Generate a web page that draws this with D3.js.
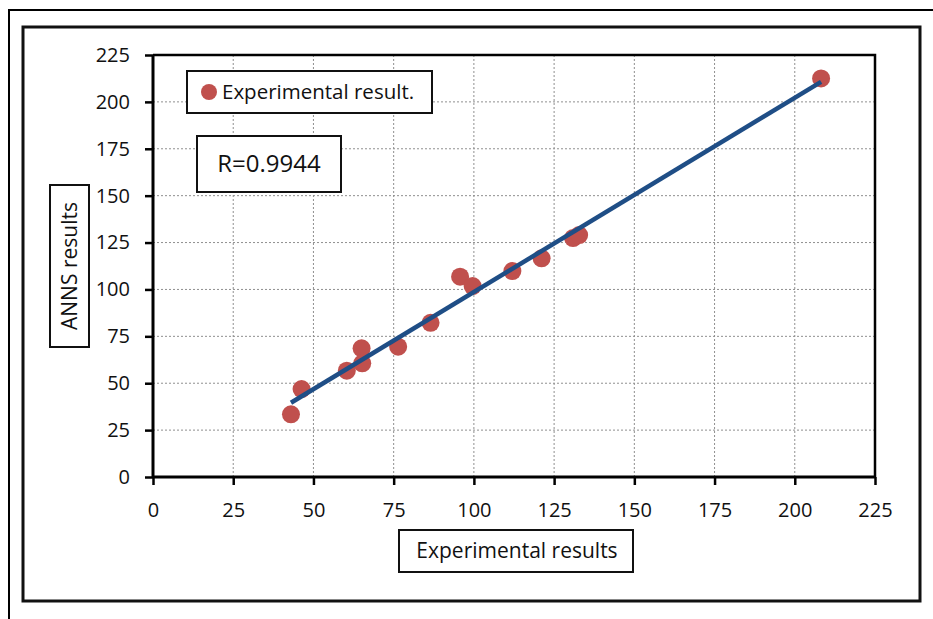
<!DOCTYPE html>
<html>
<head>
<meta charset="utf-8">
<script src="https://cdn.jsdelivr.net/npm/d3@7"></script>
<style>
  html, body { margin: 0; padding: 0; background: #fff; }
  svg { display: block; font-family: "Open Sans", Lato, sans-serif; }
</style>
</head>
<body>
<svg id="chart" width="933" height="619"></svg>
<script>
// Measured vs. predicted values
const experimental = [43.0, 46.3, 60.4, 65.0, 65.2, 76.4, 86.5, 95.7, 99.6, 112.0, 121.1, 130.9, 132.8, 208.2];
const anns         = [33.4, 46.9, 56.7, 68.6, 60.6, 69.5, 82.2, 106.8, 101.8, 109.8, 116.6, 127.4, 129.0, 212.5];
const xTicks = [0, 25, 50, 75, 100, 125, 150, 175, 200, 225];
const yTicks = [0, 25, 50, 75, 100, 125, 150, 175, 200, 225];
const legendLabel = "Experimental result.";
const rLabel = "R=0.9944";
const xTitle = "Experimental results";
const yTitle = "ANNS results";

const points = experimental.map((x, i) => ({ x, y: anns[i] }));

const svg = d3.select("#chart");
const plot = { left: 153, right: 875, top: 55, bottom: 477 };
const fontFamily = "'Open Sans', Lato, sans-serif";

const x = d3.scaleLinear().domain([0, 225]).range([plot.left, plot.right]);
const y = d3.scaleLinear().domain([0, 225]).range([plot.bottom, plot.top]);

// Frames
svg.append("path")
  .attr("d", "M9,619V10H933")
  .attr("fill", "none").attr("stroke", "#000").attr("stroke-width", 2);
svg.append("rect")
  .attr("x", 23).attr("y", 27).attr("width", 897).attr("height", 574)
  .attr("fill", "#fff").attr("stroke", "#111").attr("stroke-width", 3);

// Dotted grid
const grid = svg.append("g").attr("stroke", "#8f8f8f").attr("stroke-width", 1)
  .attr("stroke-dasharray", "2,2");
grid.selectAll("line.v").data(xTicks.filter(t => t > 0 && t < 225)).join("line")
  .attr("x1", d => x(d)).attr("x2", d => x(d))
  .attr("y1", plot.top).attr("y2", plot.bottom);
grid.selectAll("line.h").data(yTicks.filter(t => t > 0 && t < 225)).join("line")
  .attr("y1", d => y(d)).attr("y2", d => y(d))
  .attr("x1", plot.left).attr("x2", plot.right);

// Top and right plot border
svg.append("path")
  .attr("d", `M${plot.left},${plot.top}H${plot.right}V${plot.bottom}`)
  .attr("fill", "none").attr("stroke", "#000").attr("stroke-width", 2.5);

// Axes
const xAxis = svg.append("g").attr("transform", `translate(0,${plot.bottom})`)
  .call(d3.axisBottom(x).tickValues(xTicks).tickSize(8).tickPadding(18).tickFormat(d3.format("d")));
const yAxis = svg.append("g").attr("transform", `translate(${plot.left},0)`)
  .call(d3.axisLeft(y).tickValues(yTicks).tickSize(8).tickPadding(15).tickFormat(d3.format("d")));
[xAxis, yAxis].forEach(g => {
  g.select(".domain").attr("stroke", "#000").attr("stroke-width", 3);
  g.selectAll(".tick line").attr("stroke", "#000").attr("stroke-width", 2.5);
  g.selectAll(".tick text").attr("fill", "#111").attr("font-size", 20)
    .attr("font-family", fontFamily);
});
yAxis.select(".domain").attr("d", `M0,${plot.top}V${plot.bottom}`);
xAxis.select(".domain").attr("d", `M${plot.left},0H${plot.right}`);

// Linear trendline fitted to the points
const mx = d3.mean(experimental), my = d3.mean(anns);
const sxy = d3.sum(points, p => (p.x - mx) * (p.y - my));
const sxx = d3.sum(points, p => (p.x - mx) ** 2);
const slope = sxy / sxx, intercept = my - slope * mx;
const [xmin, xmax] = d3.extent(experimental);

// Points
svg.append("g").selectAll("circle").data(points).join("circle")
  .attr("cx", d => x(d.x)).attr("cy", d => y(d.y)).attr("r", 9)
  .attr("fill", "#C0504D");

svg.append("path")
  .datum([xmin, xmax].map(v => ({ x: v, y: intercept + slope * v })))
  .attr("d", d3.line().x(d => x(d.x)).y(d => y(d.y)))
  .attr("stroke", "#1F4E86").attr("stroke-width", 4.5).attr("fill", "none");

// Legend
const legend = svg.append("g");
legend.append("rect").attr("x", 187).attr("y", 71).attr("width", 245).attr("height", 42)
  .attr("fill", "#fff").attr("stroke", "#111").attr("stroke-width", 2);
legend.append("circle").attr("cx", 209).attr("cy", 92).attr("r", 8).attr("fill", "#C0504D");
legend.append("text").attr("x", 222).attr("y", 92).attr("dy", "0.35em")
  .attr("font-size", 20.5).attr("fill", "#111").text(legendLabel);

// Correlation box
svg.append("rect").attr("x", 197).attr("y", 136).attr("width", 144).attr("height", 56)
  .attr("fill", "#fff").attr("stroke", "#111").attr("stroke-width", 2);
svg.append("text").attr("x", 269).attr("y", 164).attr("dy", "0.35em")
  .attr("text-anchor", "middle").attr("font-size", 24).attr("fill", "#111").text(rLabel);

// Axis titles
svg.append("rect").attr("x", 399).attr("y", 530).attr("width", 234).attr("height", 42)
  .attr("fill", "#fff").attr("stroke", "#111").attr("stroke-width", 2);
svg.append("text").attr("x", 517).attr("y", 551).attr("dy", "0.35em")
  .attr("text-anchor", "middle").attr("font-size", 21).attr("fill", "#111").text(xTitle);

svg.append("rect").attr("x", 50).attr("y", 185).attr("width", 39).attr("height", 162)
  .attr("fill", "#fff").attr("stroke", "#111").attr("stroke-width", 2);
svg.append("text").attr("transform", "translate(69.5,266) rotate(-90)").attr("dy", "0.35em")
  .attr("text-anchor", "middle").attr("font-size", 21).attr("fill", "#111").text(yTitle);
</script>
</body>
</html>
